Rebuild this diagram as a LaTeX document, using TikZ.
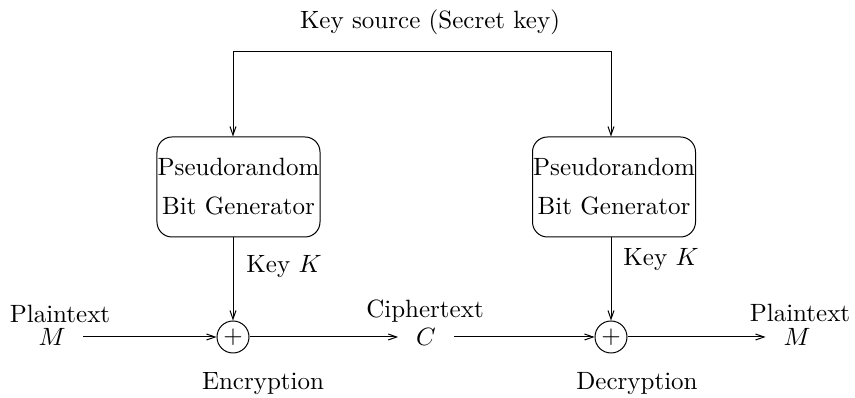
\documentclass[tikz,border=0pt]{standalone}
\usetikzlibrary{arrows.meta}
\begin{document}
\begin{tikzpicture}[x=0.4pt,y=-0.4pt,
  line width=0.4pt,
  arr/.style={-{Straight Barb[length=3.4pt,width=2.4pt]}},
  genbox/.style={draw,rounded corners=6pt,minimum width=65.2pt,minimum height=40pt,align=center,inner sep=0pt},
  xorop/.style={draw,circle,minimum size=12.8pt,inner sep=0pt},
  sym/.style={inner xsep=7pt,inner ysep=2pt},
  lbl/.style={inner sep=1pt}]
\useasboundingbox (0,0) rectangle (855,398);

% key source
\node[lbl] (ks) at (430,22) {Key source (Secret key)};
\coordinate (tl) at (233,52);
\coordinate (tr) at (611,52);

% generators
\node[genbox] (lbox) at (238.5,187) {Pseudorandom\\[3.6pt]Bit Generator};
\node[genbox] (rbox) at (614,187) {Pseudorandom\\[3.6pt]Bit Generator};

% xor operators
\node[xorop] (xl) at (233,337) {$+$};
\node[xorop] (xr) at (611,337) {$+$};

% plaintext, ciphertext
\node[lbl] (pl1) at (60,314) {Plaintext};
\node[sym] (m1) at (52,337) {$M$};
\node[lbl] (ct) at (425,311) {Ciphertext};
\node[sym] (c) at (426,337) {$C$};
\node[lbl] (pl2) at (800,313) {Plaintext};
\node[sym] (m2) at (797,337) {$M$};

% labels
\node[lbl] (kl) at (284,267) {Key $K$};
\node[lbl] (kr) at (661,260) {Key $K$};
\node[lbl] (enc) at (263,384) {Encryption};
\node[lbl] (dec) at (637,384) {Decryption};

% connectors
\draw[{Straight Barb[length=3.4pt,width=2.4pt]}-{Straight Barb[length=3.4pt,width=2.4pt]}]
  (tl |- lbox.north) -- (tl) -- (tr) -- (tr |- rbox.north);
\draw[arr] (tl |- lbox.south) -- (xl.north);
\draw[arr] (tr |- rbox.south) -- (xr.north);
\draw[arr] (m1.east) -- (xl.west);
\draw[arr] (xl.east) -- (c.west);
\draw[arr] (c.east) -- (xr.west);
\draw[arr] (xr.east) -- (m2.west);
\end{tikzpicture}
\end{document}
